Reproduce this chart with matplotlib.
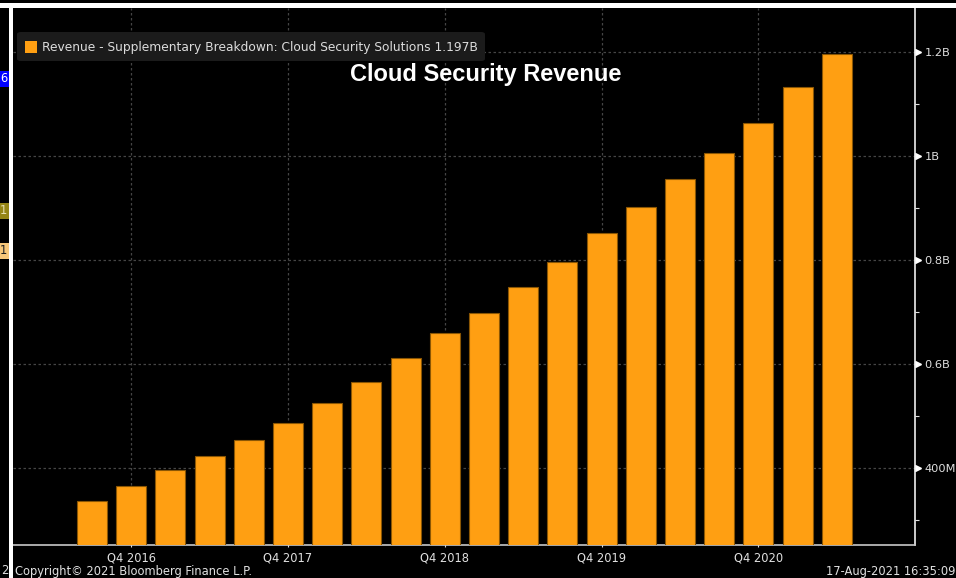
import matplotlib.pyplot as plt
from matplotlib.patches import Rectangle, FancyBboxPatch
from matplotlib.transforms import blended_transform_factory
import numpy as np

# quarterly cloud security revenue, billions USD (Q3 2016 .. Q2 2021)
quarters = ['Q3 2016', 'Q4 2016', 'Q1 2017', 'Q2 2017', 'Q3 2017', 'Q4 2017',
            'Q1 2018', 'Q2 2018', 'Q3 2018', 'Q4 2018', 'Q1 2019', 'Q2 2019',
            'Q3 2019', 'Q4 2019', 'Q1 2020', 'Q2 2020', 'Q3 2020', 'Q4 2020',
            'Q1 2021', 'Q2 2021']
revenue = [0.336, 0.365, 0.396, 0.424, 0.453, 0.487, 0.526, 0.565, 0.611, 0.659,
           0.699, 0.749, 0.797, 0.851, 0.901, 0.956, 1.006, 1.063, 1.133, 1.197]

ytick_vals = [0.4, 0.6, 0.8, 1.0, 1.2]
ytick_labels = ['400M', '0.6B', '0.8B', '1B', '1.2B']
yminor_vals = [0.3, 0.5, 0.7, 0.9, 1.1]

W, H = 956, 578
fig = plt.figure(figsize=(W / 100, H / 100), dpi=100, facecolor='black')

def px(x0, y0, x1, y1):
    # pixel box (top-left origin) -> figure fraction rect
    return [x0 / W, 1 - y1 / H, (x1 - x0) / W, (y1 - y0) / H]

ax = fig.add_axes(px(13, 8, 915, 545))
ax.set_facecolor('black')

orange = '#ff9f12'
x = np.arange(len(revenue))
ax.bar(x, revenue, width=0.765, color=orange, edgecolor='#8a5604', linewidth=0.8,
       zorder=3)

ax.set_xlim(-2.015, 20.995)
ax.set_ylim(0.252, 1.2846)

# Q4 ticks only
q4 = [i for i, q in enumerate(quarters) if q.startswith('Q4')]
ax.set_xticks(q4)
ax.set_xticklabels([quarters[i] for i in q4])
ax.tick_params(axis='x', colors='#d8d8d8', labelsize=8.3, length=3, width=0.8,
               direction='inout', pad=3)
for lab in ax.get_xticklabels():
    lab.set_color('#e0e0e0')

ax.yaxis.tick_right()
ax.set_yticks(ytick_vals)
ax.set_yticklabels(ytick_labels)
ax.set_yticks(yminor_vals, minor=True)
ax.tick_params(axis='y', which='major', length=0, pad=7, labelsize=8.2,
               labelcolor='#e0e0e0')
ax.tick_params(axis='y', which='minor', length=3, width=0.8, color='#e0e0e0')

# little arrow markers beside the major y labels
tr = blended_transform_factory(ax.transAxes, ax.transData)
ax.plot([1.0035] * len(ytick_vals), ytick_vals, linestyle='none', marker='>',
        markersize=4.2, color='white', transform=tr, clip_on=False)

ax.grid(True, color='#454545', linestyle=(0, (2, 2)), linewidth=0.9, zorder=0)

for side in ['top', 'left']:
    ax.spines[side].set_visible(False)
ax.spines['right'].set_color('#f0f0f0')
ax.spines['bottom'].set_color('#c8c8c8')
ax.spines['right'].set_linewidth(1.2)
ax.spines['bottom'].set_linewidth(1.2)

# legend strip
fig.patches.append(FancyBboxPatch((17 / W, 1 - 61 / H), 468 / W, 29 / H,
                                  boxstyle='round,pad=0,rounding_size=0.004',
                                  transform=fig.transFigure, facecolor='#1b1b1b',
                                  edgecolor='none', zorder=4))
fig.patches.append(Rectangle((25 / W, 1 - 53 / H), 12 / W, 12 / H,
                             transform=fig.transFigure, facecolor=orange,
                             edgecolor='none', zorder=5))
fig.text(42 / W, 1 - 47 / H,
         'Revenue - Supplementary Breakdown: Cloud Security Solutions %.3fB' % revenue[-1],
         color='#dcdcdc', fontsize=8.85, va='center', ha='left', zorder=6)

fig.text(486 / W, 1 - 75 / H, 'Cloud Security Revenue', color='white',
         fontsize=17, fontweight='bold', family='Liberation Sans',
         ha='center', va='center', zorder=6)

# window frame bits
fig.patches.append(Rectangle((0, 1 - 8.3 / H), 1, 5.5 / H, transform=fig.transFigure,
                             facecolor='white', edgecolor='none', zorder=7))
fig.patches.append(Rectangle((9 / W, 0), 3.8 / W, 1 - 8.3 / H,
                             transform=fig.transFigure, facecolor='white',
                             edgecolor='none', zorder=7))

# side tags on the left edge
side_tags = [('6', 79, '#0000ff', '#ffffff'),
             ('1', 211, '#958515', '#e8e0b0'),
             ('1', 251, '#f7c77a', '#202020')]
for txt, yy, bg, fg in side_tags:
    fig.patches.append(Rectangle((0, 1 - (yy + 8) / H), 8.5 / W, 16 / H,
                                 transform=fig.transFigure, facecolor=bg,
                                 edgecolor='none', zorder=7))
    fig.text(3.5 / W, 1 - yy / H, txt, color=fg, fontsize=8.3, ha='center',
             va='center', zorder=8)

fig.text(1 / W, 1 - 571 / H, '2', color='#e0e0e0', fontsize=8.3, va='center')
fig.text(15 / W, 1 - 571 / H, 'Copyright\u00a9 2021 Bloomberg Finance L.P.',
         color='#e0e0e0', fontsize=8.3, va='center', ha='left')
fig.text(955 / W, 1 - 571 / H, '17-Aug-2021 16:35:09', color='#e0e0e0',
         fontsize=8.3, va='center', ha='right')

fig.savefig('out.png', dpi=100, facecolor='black')
